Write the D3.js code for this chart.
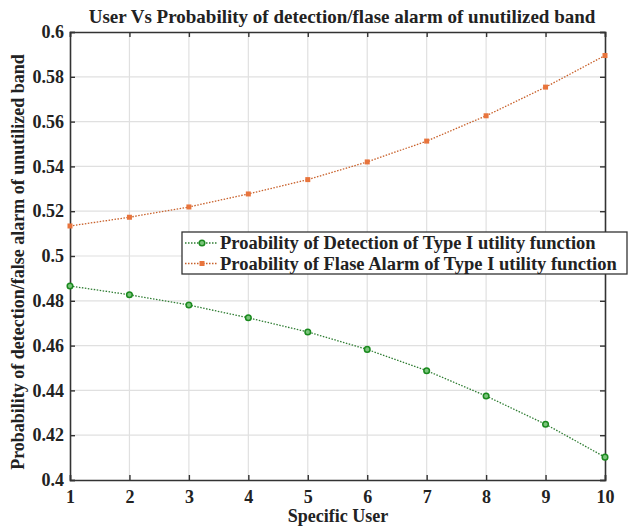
<!DOCTYPE html>
<meta charset="utf-8">
<script src="https://d3js.org/d3.v7.min.js"></script>
<style>
  body { margin: 0; background: #fff; }
  text { font-family: "Liberation Serif", "Times New Roman", serif; font-weight: bold; }
</style>
<svg id="chart" width="630" height="527"></svg>
<script>

  // data
  var users = [1, 2, 3, 4, 5, 6, 7, 8, 9, 10];
  var detection = [0.4866, 0.4827, 0.4781, 0.4724, 0.4661, 0.4583, 0.4488, 0.4375, 0.4249, 0.4102];
  var falseAlarm = [0.5134, 0.5173, 0.5219, 0.5277, 0.5341, 0.5420, 0.5513, 0.5626, 0.5754, 0.5895];
  var yTicks = [0.4, 0.42, 0.44, 0.46, 0.48, 0.5, 0.52, 0.54, 0.56, 0.58, 0.6];
  var seriesNames = ["Proability of Detection of Type I utility function",
                     "Proability of Flase Alarm of Type I utility function"];

  var svg = d3.select("svg");
  var margin = {left: 70, right: 25, top: 32, bottom: 47};
  var width = 630, height = 527;

  var x = d3.scaleLinear().domain([1, 10]).range([margin.left, width - margin.right]);
  var y = d3.scaleLinear().domain([0.4, 0.6]).range([height - margin.bottom, margin.top]);

  // grid
  svg.append("g").selectAll("line").data(users.slice(1, -1)).enter().append("line")
    .attr("x1", function(d){ return x(d) }).attr("x2", function(d){ return x(d) })
    .attr("y1", y(0.4)).attr("y2", y(0.6))
    .style("stroke", "#e0e0e0").style("stroke-width", 1.2);
  svg.append("g").selectAll("line").data(yTicks.slice(1, -1)).enter().append("line")
    .attr("y1", function(d){ return y(d) }).attr("y2", function(d){ return y(d) })
    .attr("x1", x(1)).attr("x2", x(10))
    .style("stroke", "#e0e0e0").style("stroke-width", 1.2);

  // axes (ticks pointing inward, box style)
  var fmt = function(d){ return String(+d.toFixed(2)) };
  var axB = svg.append("g").attr("transform", "translate(0," + y(0.4) + ")")
    .call(d3.axisBottom(x).tickValues(users).tickSize(-5).tickPadding(10));
  var axT = svg.append("g").attr("transform", "translate(0," + y(0.6) + ")")
    .call(d3.axisTop(x).tickValues(users).tickSize(-5).tickFormat(""));
  var axL = svg.append("g").attr("transform", "translate(" + x(1) + ",0)")
    .call(d3.axisLeft(y).tickValues(yTicks).tickSize(-5).tickPadding(6).tickFormat(fmt));
  var axR = svg.append("g").attr("transform", "translate(" + x(10) + ",0)")
    .call(d3.axisRight(y).tickValues(yTicks).tickSize(-5).tickFormat(""));

  [axB, axT, axL, axR].forEach(function(a){
    a.selectAll("path").style("stroke", "#333").style("stroke-width", 1.6);
    a.selectAll("line").style("stroke", "#333").style("stroke-width", 1.4);
    a.selectAll("text").style("font-size", "18px").style("fill", "#222")
      .style("font-family", "Liberation Serif").style("font-weight", "bold");
  });

  // lines
  var line = d3.line().x(function(d){ return x(d[0]) }).y(function(d){ return y(d[1]) });
  var greenData = users.map(function(u, i){ return [u, detection[i]] });
  var orangeData = users.map(function(u, i){ return [u, falseAlarm[i]] });

  svg.append("path").datum(greenData).attr("d", line)
    .style("fill", "none").style("stroke", "#2f7d33").style("stroke-width", 1.3)
    .style("stroke-dasharray", "1.5,1.5");
  svg.append("path").datum(orangeData).attr("d", line)
    .style("fill", "none").style("stroke", "#c8602a").style("stroke-width", 1.3)
    .style("stroke-dasharray", "1.5,1.5");

  svg.append("g").selectAll("circle").data(greenData).enter().append("circle")
    .attr("cx", function(d){ return x(d[0]) }).attr("cy", function(d){ return y(d[1]) })
    .attr("r", 2.8).style("fill", "#7bc47b").style("stroke", "#1a8a1e").style("stroke-width", 1.5);
  svg.append("g").selectAll("rect").data(orangeData).enter().append("rect")
    .attr("x", function(d){ return x(d[0]) - 2.5 }).attr("y", function(d){ return y(d[1]) - 2.5 })
    .attr("width", 5).attr("height", 5).style("fill", "#e8743c");

  // title and labels
  svg.append("text").attr("x", 342).attr("y", 23).attr("text-anchor", "middle")
    .style("font-size", "19px").style("fill", "#222")
    .text("User Vs Probability of detection/flase alarm of unutilized band");
  svg.append("text").attr("x", 338).attr("y", 522).attr("text-anchor", "middle")
    .style("font-size", "18px").style("fill", "#222").text("Specific User");
  svg.append("text").attr("transform", "translate(24," + (y(0.5) + 6) + ") rotate(-90)")
    .attr("text-anchor", "middle").style("font-size", "18px").style("fill", "#222")
    .text("Probability of detection/false alarm of unutilized band");

  // legend
  var lg = svg.append("g").attr("transform", "translate(182,232)");
  lg.append("rect").attr("width", 445).attr("height", 42)
    .style("fill", "#fff").style("stroke", "#333").style("stroke-width", 1.3);
  var colors = ["#2f7d33", "#c8602a"];
  seriesNames.forEach(function(name, i){
    var yy = 11 + i * 20.5;
    lg.append("line").attr("x1", 3).attr("x2", 36).attr("y1", yy).attr("y2", yy)
      .style("stroke", colors[i]).style("stroke-width", 1.3).style("stroke-dasharray", "1.5,1.5");
    if (i === 0) {
      lg.append("circle").attr("cx", 20).attr("cy", yy).attr("r", 2.8)
        .style("fill", "#7bc47b").style("stroke", "#1a8a1e").style("stroke-width", 1.5);
    } else {
      lg.append("rect").attr("x", 17.5).attr("y", yy - 2.5).attr("width", 5).attr("height", 5)
        .style("fill", "#e8743c");
    }
    lg.append("text").attr("x", 38).attr("y", yy + 6)
      .style("font-size", "18.5px").style("fill", "#222").text(name);
  });

</script>
